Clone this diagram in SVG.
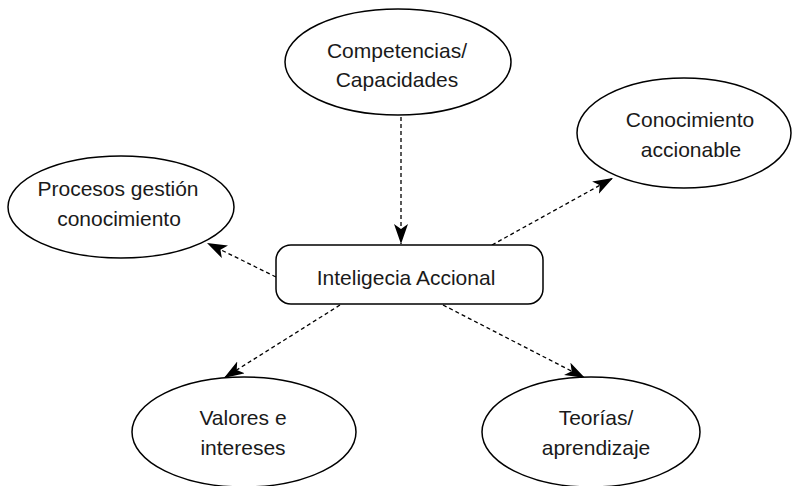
<svg xmlns="http://www.w3.org/2000/svg" width="795" height="486" viewBox="0 0 795 486">
  <style>
    .shape { fill: #ffffff; stroke: #000000; stroke-width: 1.5; }
    .label { font-family: "Liberation Sans", Arial, sans-serif; font-size: 21px; fill: #1a1a1a; text-anchor: middle; }
    .link { fill: none; stroke: #000000; stroke-width: 1.3; stroke-dasharray: 4 3; marker-end: url(#arrow); }
  </style>
  <defs>
    <marker id="arrow" markerUnits="userSpaceOnUse" markerWidth="22" markerHeight="15" refX="20" refY="7" orient="auto">
      <path d="M0,0 L20,7 L0,14 L5,7 z" fill="#000000"/>
    </marker>
  </defs>
  <rect width="795" height="486" fill="#ffffff"/>

  <g id="connectors">
    <line class="link" x1="401" y1="117" x2="401" y2="244"/>
    <line class="link" x1="492" y1="245" x2="613" y2="178"/>
    <line class="link" x1="276" y1="277" x2="207" y2="243"/>
    <line class="link" x1="340" y1="305" x2="224" y2="378"/>
    <line class="link" x1="443" y1="305" x2="585" y2="378"/>
  </g>

  <g id="competencias">
    <ellipse class="shape" cx="398" cy="62" rx="113" ry="53"/>
    <text class="label" x="397" y="58">Competencias/</text>
    <text class="label" x="397" y="87">Capacidades</text>
  </g>

  <g id="conocimiento-accionable">
    <ellipse class="shape" cx="684" cy="133" rx="107" ry="55"/>
    <text class="label" x="690" y="127">Conocimiento</text>
    <text class="label" x="691" y="157">accionable</text>
  </g>

  <g id="procesos">
    <ellipse class="shape" cx="121" cy="207" rx="113" ry="51"/>
    <text class="label" x="118" y="196">Procesos gestión</text>
    <text class="label" x="119" y="226">conocimiento</text>
  </g>

  <g id="inteligencia">
    <rect class="shape" x="276" y="245" width="267" height="59" rx="15" ry="15"/>
    <text class="label" x="406" y="285">Inteligecia Accional</text>
  </g>

  <g id="valores">
    <ellipse class="shape" cx="244" cy="432" rx="112" ry="55"/>
    <text class="label" x="243" y="425">Valores e</text>
    <text class="label" x="243" y="455">intereses</text>
  </g>

  <g id="teorias">
    <ellipse class="shape" cx="591" cy="432" rx="109" ry="55"/>
    <text class="label" x="596" y="425">Teorías/</text>
    <text class="label" x="596" y="455">aprendizaje</text>
  </g>
</svg>
